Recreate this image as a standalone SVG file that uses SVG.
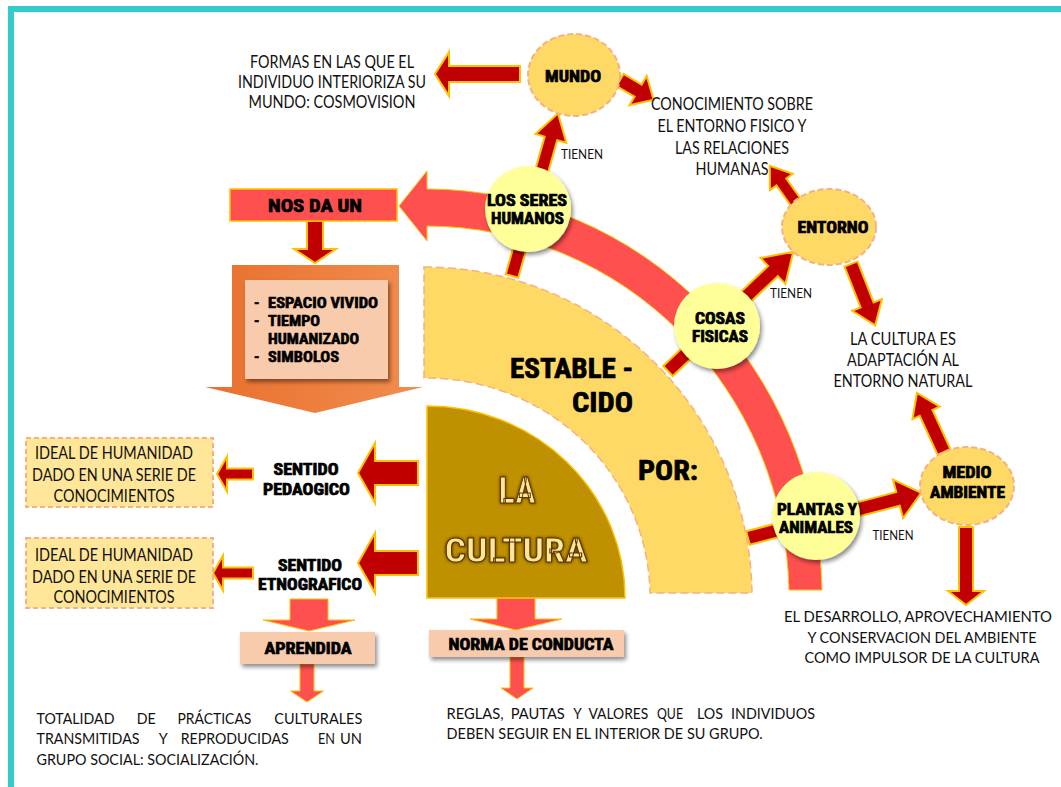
<svg xmlns="http://www.w3.org/2000/svg" width="1061" height="787" viewBox="0 0 1061 787">
<defs>
<style>
.t{font-family:Lato,"Liberation Sans",sans-serif;font-size:16.5px;fill:#111;text-anchor:middle}
.tl{font-family:Lato,"Liberation Sans",sans-serif;font-size:15.5px;fill:#111}
.sm{font-family:Lato,"Liberation Sans",sans-serif;font-size:13.5px;fill:#111;text-anchor:middle}
.b{font-family:"Liberation Sans Narrow","Roboto Condensed","DejaVu Sans Condensed","Liberation Sans",sans-serif;font-weight:bold;font-size:16px;fill:#000;stroke:#000;stroke-width:0.7;text-anchor:middle}
.bl{font-family:"Liberation Sans Narrow","Roboto Condensed","DejaVu Sans Condensed","Liberation Sans",sans-serif;font-weight:bold;font-size:15px;fill:#000;stroke:#000;stroke-width:0.6}
.dr{fill:#C00000;stroke:#FFC000;stroke-width:2;stroke-linejoin:miter}
.rd{fill:#FF5050;stroke:#FFC000;stroke-width:1}
.ell{fill:#FFD966;stroke:#F4B183;stroke-width:2;stroke-dasharray:6 3}
.cir{fill:#FFFF99}
.peach{fill:#F8CBAD}
.ideal{fill:#FFE699;stroke:#F4B183;stroke-width:2;stroke-dasharray:5 3}
</style>
<filter id="sh" x="-30%" y="-30%" width="160%" height="170%"><feDropShadow dx="2" dy="3" stdDeviation="2" flood-color="#000" flood-opacity="0.45"/></filter>
<filter id="glow" x="-20%" y="-20%" width="140%" height="140%"><feDropShadow dx="0" dy="0" stdDeviation="1.8" flood-color="#3d2400" flood-opacity="1"/></filter>
<linearGradient id="og" x1="0" y1="0" x2="1" y2="0"><stop offset="0" stop-color="#E8702E"/><stop offset="1" stop-color="#F28D4E"/></linearGradient>
</defs>

<!-- frame -->
<path d="M11,787 V9 H1061" fill="none" stroke="#33CCCC" stroke-width="6"/>

<!-- big red curved arrow -->
<g id="arc-arrow">
<path class="rd" d="M427,171 L399,206 L427,241 L427,226 A363,372 0 0 1 789,590 L822,590 A396,409 0 0 0 427,189 Z"/>
</g>

<g id="connectors">
<polygon class="dr" transform="translate(520,74) rotate(180)" points="0,-8 71,-8 71,-22 85,0 71,22 71,8 0,8"/>
<polygon class="dr" transform="translate(620,80) rotate(30.5)" points="0,-7 21,-7 21,-17 39,0 21,17 21,7 0,7"/>
<polygon class="dr" transform="translate(512,276) rotate(-74.2)" points="0,-6.5 143,-6.5 143,-16 169,0 143,16 143,6.5 0,6.5"/>
<polygon class="dr" transform="translate(668,371) rotate(-43.6)" points="0,-7 145,-7 145,-18 173,0 145,18 145,7 0,7"/>
<polygon class="dr" transform="translate(797,204) rotate(-125.4)" points="0,-6 27,-6 27,-14 47,0 27,14 27,6 0,6"/>
<polygon class="dr" transform="translate(851,264) rotate(68.5)" points="0,-7 44,-7 44,-16 66,0 44,16 44,7 0,7"/>
<polygon class="dr" transform="translate(944,452) rotate(-114.6)" points="0,-7 43,-7 43,-15 65,0 43,15 43,7 0,7"/>
<polygon class="dr" transform="translate(748,538) rotate(-14.6)" points="0,-7 155,-7 155,-20 179,0 155,20 155,7 0,7"/>
<polygon class="dr" transform="translate(966,527) rotate(90)" points="0,-7 64,-7 64,-18 78,0 64,18 64,7 0,7"/>
<polygon class="dr" transform="translate(315,221) rotate(90)" points="0,-8 28,-8 28,-21 42,0 28,21 28,8 0,8"/>
<polygon class="dr" transform="translate(418,473) rotate(180)" points="0,-12 43,-12 43,-30 60,0 43,30 43,12 0,12"/>
<polygon class="dr" transform="translate(418,563) rotate(180)" points="0,-12 43,-12 43,-30 60,0 43,30 43,12 0,12"/>
<polygon class="dr" transform="translate(253,474) rotate(180)" points="0,-5.5 26,-5.5 26,-17.5 36,0 26,17.5 26,5.5 0,5.5"/>
<polygon class="dr" transform="translate(253,573) rotate(180)" points="0,-5.5 30,-5.5 30,-17.5 40,0 30,17.5 30,5.5 0,5.5"/>
<polygon class="rd" transform="translate(309,599) rotate(90)" points="0,-19 21,-19 21,-46 32,0 21,46 21,19 0,19"/>
<polygon class="rd" transform="translate(307,664) rotate(90)" points="0,-7 27,-7 27,-16.5 38,0 27,16.5 27,7 0,7"/>
<polygon class="rd" transform="translate(516,598) rotate(90)" points="0,-19 21,-19 21,-46 32,0 21,46 21,19 0,19"/>
<polygon class="rd" transform="translate(517,657) rotate(90)" points="0,-7 31,-7 31,-16 42,0 31,16 31,7 0,7"/>
</g>

<!-- establecido band -->
<g id="establecido">
<path d="M424,267 A328,331 0 0 1 752,593 L650,593 A224,219 0 0 0 424,378 Z" fill="#FFD966" stroke="#F4B183" stroke-width="1.5" stroke-dasharray="8 4"/>
<text class="b" style="font-size:28px;text-anchor:end" x="633" y="378" textLength="123" lengthAdjust="spacingAndGlyphs">ESTABLE -</text>
<text class="b" style="font-size:28px;text-anchor:end" x="633" y="412" textLength="61" lengthAdjust="spacingAndGlyphs">CIDO</text>
<text class="b" style="font-size:28px;text-anchor:start" x="638" y="480" textLength="60" lengthAdjust="spacingAndGlyphs">POR:</text>
</g>

<g id="la-cultura">
<path d="M427,598 L427,406 A198,192 0 0 1 625,598 Z" fill="#BF9000" stroke="#FFC000" stroke-width="1.5"/>
<g filter="url(#glow)">
<text class="b" style="font-size:36px;fill:#FFE699;stroke:#5a3500;stroke-width:1" x="517" y="503" textLength="37" lengthAdjust="spacingAndGlyphs">LA</text>
<text class="b" style="font-size:34px;fill:#FFE699;stroke:#5a3500;stroke-width:1" x="516" y="562" textLength="143" lengthAdjust="spacingAndGlyphs">CULTURA</text>
</g>
</g>

<g id="formas">
<text class="t" x="332" y="67.5" textLength="164" lengthAdjust="spacingAndGlyphs">FORMAS EN LAS QUE EL</text>
<text class="t" x="332" y="87.5" textLength="188" lengthAdjust="spacingAndGlyphs">INDIVIDUO INTERIORIZA SU</text>
<text class="t" x="332" y="107.5" textLength="167" lengthAdjust="spacingAndGlyphs">MUNDO: COSMOVISION</text>
</g>

<g id="mundo">
<ellipse class="ell" cx="574" cy="75" rx="46" ry="41"/>
<text class="b" x="573" y="81.7" textLength="56" lengthAdjust="spacingAndGlyphs">MUNDO</text>
</g>

<g id="conocimiento">
<text class="t" x="732" y="110" textLength="162" lengthAdjust="spacingAndGlyphs">CONOCIMIENTO SOBRE</text>
<text class="t" x="732" y="132" textLength="149" lengthAdjust="spacingAndGlyphs">EL ENTORNO FISICO Y</text>
<text class="t" x="732" y="153.5" textLength="114" lengthAdjust="spacingAndGlyphs">LAS RELACIONES</text>
<text class="t" x="732" y="174.5" textLength="73" lengthAdjust="spacingAndGlyphs">HUMANAS</text>
</g>

<g id="tienen-labels">
<text class="sm" x="582" y="158.5" textLength="42" lengthAdjust="spacingAndGlyphs">TIENEN</text>
<text class="sm" x="791" y="297.5" textLength="42" lengthAdjust="spacingAndGlyphs">TIENEN</text>
<text class="sm" x="893" y="539.5" textLength="41" lengthAdjust="spacingAndGlyphs">TIENEN</text>
</g>

<g id="nos-da-un">
<rect x="230" y="189" width="167" height="32" fill="#FF5050" stroke="#FFC000" stroke-width="1.5"/>
<text class="b" style="font-size:19px" x="315" y="211.5" textLength="94" lengthAdjust="spacingAndGlyphs">NOS DA UN</text>
</g>

<g id="espacio">
<path d="M232,265 H399 V387 H423 L315,413 L205,387 H232 Z" fill="url(#og)"/>
<rect class="peach" x="245" y="280" width="143" height="99" filter="url(#sh)"/>
<text class="bl" x="254" y="308.3">-</text>
<text class="bl" x="268" y="308.3" textLength="110" lengthAdjust="spacingAndGlyphs">ESPACIO VIVIDO</text>
<text class="bl" x="254" y="326">-</text>
<text class="bl" x="268" y="326" textLength="52" lengthAdjust="spacingAndGlyphs">TIEMPO</text>
<text class="bl" x="268" y="343.5" textLength="91" lengthAdjust="spacingAndGlyphs">HUMANIZADO</text>
<text class="bl" x="254" y="361.5">-</text>
<text class="bl" x="268" y="361.5" textLength="71" lengthAdjust="spacingAndGlyphs">SIMBOLOS</text>
</g>

<g id="seres-humanos">
<circle class="cir" cx="528" cy="209" r="43" filter="url(#sh)"/>
<text class="b" x="527" y="205.7" textLength="80" lengthAdjust="spacingAndGlyphs">LOS SERES</text>
<text class="b" x="527.5" y="223.7" textLength="73" lengthAdjust="spacingAndGlyphs">HUMANOS</text>
</g>

<g id="cosas-fisicas">
<circle class="cir" cx="717" cy="326" r="43" filter="url(#sh)"/>
<text class="b" x="720" y="323.7" textLength="50" lengthAdjust="spacingAndGlyphs">COSAS</text>
<text class="b" x="720" y="341.7" textLength="56" lengthAdjust="spacingAndGlyphs">FISICAS</text>
</g>

<g id="plantas">
<circle class="cir" cx="816" cy="516" r="44" filter="url(#sh)"/>
<text class="b" x="817" y="514.7" textLength="80" lengthAdjust="spacingAndGlyphs">PLANTAS Y</text>
<text class="b" x="816" y="532.7" textLength="74" lengthAdjust="spacingAndGlyphs">ANIMALES</text>
</g>

<g id="entorno">
<ellipse class="ell" cx="829" cy="227" rx="47" ry="38"/>
<text class="b" x="833" y="232.7" textLength="71" lengthAdjust="spacingAndGlyphs">ENTORNO</text>
</g>

<g id="adaptacion">
<text class="t" x="903" y="344.5" textLength="106" lengthAdjust="spacingAndGlyphs">LA CULTURA ES</text>
<text class="t" x="903" y="365.5" textLength="112" lengthAdjust="spacingAndGlyphs">ADAPTACIÓN AL</text>
<text class="t" x="903" y="386.5" textLength="139" lengthAdjust="spacingAndGlyphs">ENTORNO NATURAL</text>
</g>

<g id="medio-ambiente">
<ellipse class="ell" cx="967" cy="486" rx="47" ry="39"/>
<text class="b" x="967" y="477.7" textLength="49" lengthAdjust="spacingAndGlyphs">MEDIO</text>
<text class="b" x="967.5" y="497.7" textLength="75" lengthAdjust="spacingAndGlyphs">AMBIENTE</text>
</g>

<g id="desarrollo">
<text class="t" style="font-size:14.5px" x="918" y="622" textLength="268" lengthAdjust="spacingAndGlyphs">EL DESARROLLO, APROVECHAMIENTO</text>
<text class="t" style="font-size:14.5px" x="922" y="643" textLength="229" lengthAdjust="spacingAndGlyphs">Y CONSERVACION DEL AMBIENTE</text>
<text class="t" style="font-size:14.5px" x="922" y="663" textLength="235" lengthAdjust="spacingAndGlyphs">COMO IMPULSOR DE LA CULTURA</text>
</g>

<g id="sentido-pedagogico">
<text class="b" x="306" y="474.7" textLength="65" lengthAdjust="spacingAndGlyphs">SENTIDO</text>
<text class="b" x="306.5" y="494.7" textLength="87" lengthAdjust="spacingAndGlyphs">PEDAOGICO</text>
</g>
<g id="ideal-1">
<rect class="ideal" x="26" y="438" width="187" height="69"/>
<text class="t" x="114" y="458.5" textLength="158" lengthAdjust="spacingAndGlyphs">IDEAL DE HUMANIDAD</text>
<text class="t" x="114" y="480.5" textLength="164" lengthAdjust="spacingAndGlyphs">DADO EN UNA SERIE DE</text>
<text class="t" x="114" y="501.5" textLength="121" lengthAdjust="spacingAndGlyphs">CONOCIMIENTOS</text>
</g>

<g id="sentido-etnografico">
<text class="b" x="310" y="570.7" textLength="64" lengthAdjust="spacingAndGlyphs">SENTIDO</text>
<text class="b" x="310" y="589.7" textLength="104" lengthAdjust="spacingAndGlyphs">ETNOGRAFICO</text>
</g>
<g id="ideal-2">
<rect class="ideal" x="26" y="538" width="187" height="70"/>
<text class="t" x="114" y="560.5" textLength="158" lengthAdjust="spacingAndGlyphs">IDEAL DE HUMANIDAD</text>
<text class="t" x="114" y="582.5" textLength="164" lengthAdjust="spacingAndGlyphs">DADO EN UNA SERIE DE</text>
<text class="t" x="114" y="602.5" textLength="121" lengthAdjust="spacingAndGlyphs">CONOCIMIENTOS</text>
</g>

<g id="aprendida">
<rect class="peach" x="240" y="632" width="135" height="32" filter="url(#sh)"/>
<text class="b" x="308" y="653.7" textLength="87" lengthAdjust="spacingAndGlyphs">APRENDIDA</text>
</g>

<g id="totalidad">
<text class="tl" y="723.5"><tspan x="36.5" textLength="78" lengthAdjust="spacingAndGlyphs">TOTALIDAD</tspan><tspan x="136.8" textLength="19" lengthAdjust="spacingAndGlyphs">DE</tspan><tspan x="177.4" textLength="74" lengthAdjust="spacingAndGlyphs">PRÁCTICAS</tspan><tspan x="274.3" textLength="88" lengthAdjust="spacingAndGlyphs">CULTURALES</tspan></text>
<text class="tl" y="743.5"><tspan x="36.5" textLength="103" lengthAdjust="spacingAndGlyphs">TRANSMITIDAS</tspan><tspan x="158.8" textLength="9" lengthAdjust="spacingAndGlyphs">Y</tspan><tspan x="180.7" textLength="108" lengthAdjust="spacingAndGlyphs">REPRODUCIDAS</tspan><tspan x="318" textLength="17" lengthAdjust="spacingAndGlyphs">EN</tspan><tspan x="340" textLength="22" lengthAdjust="spacingAndGlyphs">UN</tspan></text>
<text class="tl" x="36.5" y="764.5" textLength="222" lengthAdjust="spacingAndGlyphs">GRUPO SOCIAL: SOCIALIZACIÓN.</text>
</g>

<g id="norma">
<rect class="peach" x="429" y="630" width="195" height="27" filter="url(#sh)"/>
<text class="b" x="531" y="649.7" textLength="165" lengthAdjust="spacingAndGlyphs">NORMA DE CONDUCTA</text>
</g>

<g id="reglas">
<text class="tl" style="font-size:15px" y="718.5"><tspan x="446.6" textLength="57" lengthAdjust="spacingAndGlyphs">REGLAS,</tspan><tspan x="510.8" textLength="54" lengthAdjust="spacingAndGlyphs">PAUTAS</tspan><tspan x="573.3" textLength="8.5" lengthAdjust="spacingAndGlyphs">Y</tspan><tspan x="588.4" textLength="60" lengthAdjust="spacingAndGlyphs">VALORES</tspan><tspan x="657" textLength="26" lengthAdjust="spacingAndGlyphs">QUE</tspan><tspan x="697" textLength="26" lengthAdjust="spacingAndGlyphs">LOS</tspan><tspan x="731" textLength="84" lengthAdjust="spacingAndGlyphs">INDIVIDUOS</tspan></text>
<text class="tl" x="446.6" y="738.5" textLength="316" lengthAdjust="spacingAndGlyphs">DEBEN SEGUIR EN EL INTERIOR DE SU GRUPO.</text>
</g>
</svg>
